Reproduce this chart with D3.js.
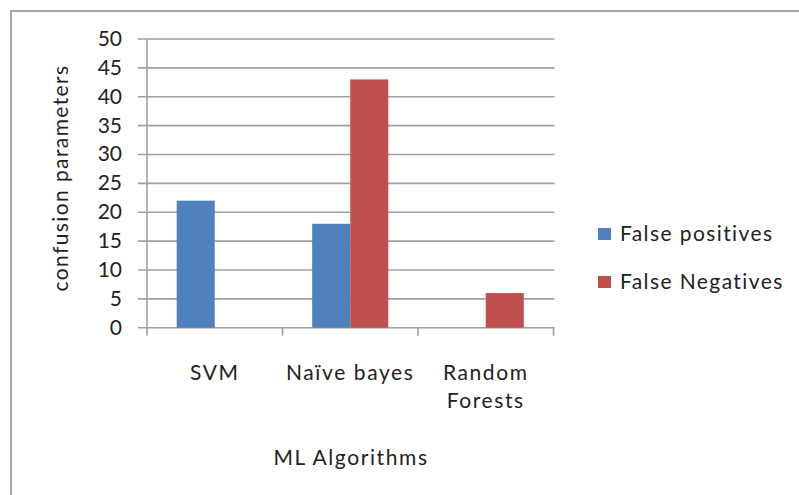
<!DOCTYPE html>
<html><head><meta charset="utf-8">
<script src="https://cdn.jsdelivr.net/npm/d3@7/dist/d3.min.js"></script>
<style>body{margin:0;background:#fff}svg text{font-family:Lato,"Open Sans",sans-serif;fill:#222}</style>
</head><body><svg id="c" width="799" height="495"></svg>
<script>
const categories = ["SVM", "Naïve bayes", "Random Forests"];
const seriesNames = ["False positives", "False Negatives"];
const falsePositives = [22, 18, 0];
const falseNegatives = [0, 43, 6];
const yTicks = [0, 5, 10, 15, 20, 25, 30, 35, 40, 45, 50];
const colors = ["#4F81BD", "#C0504D"];

const svg = d3.select("#c");
const fs = 21;
svg.append("rect").attr("x", 11).attr("y", 11).attr("width", 820).attr("height", 520)
  .attr("fill", "#fff").attr("stroke", "#a6a6a6").attr("stroke-width", 2);

const L = 147, R = 553.5, T = 39, B = 327.7;
const x = d3.scaleBand().domain(categories).range([L, R]).paddingInner(0).paddingOuter(0);
const y = d3.scaleLinear().domain([0, 50]).range([B, T]);
const xs = d3.scaleBand().domain(seriesNames).range([0, x.bandwidth()]).paddingInner(0).paddingOuter(0.78);

// gridlines + y ticks
const g = svg.append("g");
g.selectAll("line.grid").data(yTicks).join("line")
  .attr("x1", 138).attr("x2", R + 1).attr("y1", d => y(d)).attr("y2", d => y(d))
  .attr("stroke", "#a0a0a0").attr("stroke-width", 1.6);
g.selectAll("text.yt").data(yTicks).join("text")
  .attr("x", 122).attr("y", d => y(d) + 7).attr("text-anchor", "end")
  .attr("font-size", fs).text(d => d);
// y axis line
g.append("line").attr("x1", L).attr("x2", L).attr("y1", T).attr("y2", B)
  .attr("stroke", "#a0a0a0").attr("stroke-width", 1.6);
// x ticks
const bounds = categories.map(c => x(c)).concat([R]);
g.selectAll("line.xt").data(bounds).join("line")
  .attr("x1", d => d).attr("x2", d => d).attr("y1", B).attr("y2", B + 8)
  .attr("stroke", "#a0a0a0").attr("stroke-width", 1.6);

// bars
const rows = categories.map((c, i) => ({c, vals: [falsePositives[i], falseNegatives[i]]}));
const grp = svg.append("g").selectAll("g").data(rows).join("g")
  .attr("transform", d => `translate(${x(d.c)},0)`);
grp.selectAll("rect").data(d => d.vals.map((v, k) => ({v, k}))).join("rect")
  .filter(d => d.v > 0)
  .attr("x", d => xs(seriesNames[d.k])).attr("width", xs.bandwidth())
  .attr("y", d => y(d.v)).attr("height", d => y(0) - y(d.v))
  .attr("fill", d => colors[d.k]);

// x labels (wrapped)
svg.append("g").selectAll("text").data(categories).join("text")
  .attr("text-anchor", "middle").attr("font-size", fs).attr("letter-spacing", 1.6)
  .attr("x", d => x(d) + x.bandwidth() / 2).attr("y", 380)
  .each(function(d) {
    const words = d.length > 12 ? d.split(" ") : [d];
    d3.select(this).selectAll("tspan").data(words).join("tspan")
      .attr("x", x(d) + x.bandwidth() / 2).attr("dy", (w, i) => i ? 28 : 0).text(w => w);
  });

// axis titles
svg.append("text").attr("x", 351).attr("y", 465).attr("text-anchor", "middle")
  .attr("font-size", fs).attr("letter-spacing", 1.6).text("ML Algorithms");
svg.append("text").attr("transform", "translate(68,178) rotate(-90)")
  .attr("text-anchor", "middle").attr("font-size", fs).attr("letter-spacing", 1.4).text("confusion parameters");

// legend
const lg = svg.append("g").selectAll("g").data(seriesNames).join("g")
  .attr("transform", (d, i) => `translate(598,${228 + i * 48})`);
lg.append("rect").attr("width", 13).attr("height", 12).attr("fill", (d, i) => colors[i]);
lg.append("text").attr("x", 22).attr("y", 13).attr("font-size", fs).attr("letter-spacing", 1.4).text(d => d);
</script></body></html>
